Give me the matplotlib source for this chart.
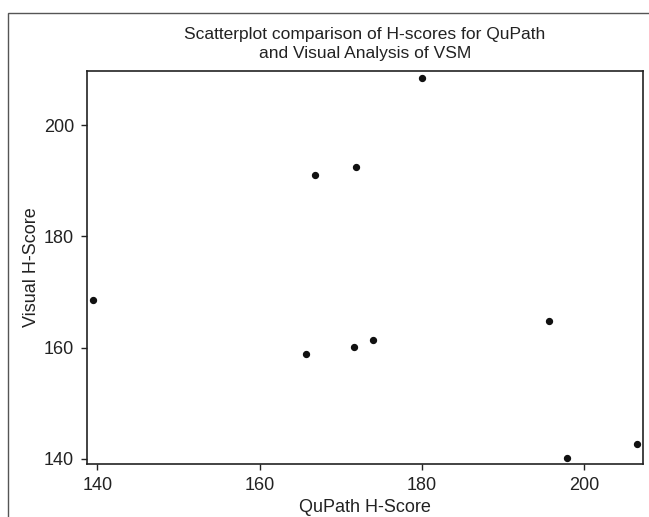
import matplotlib
matplotlib.use("Agg")
import matplotlib.pyplot as plt
from matplotlib.patches import Rectangle

plt.rcParams['font.family'] = ['Liberation Sans', 'DejaVu Sans']

# QuPath vs visual H-scores
qupath = [139.4, 165.7, 166.8, 171.6, 171.9, 174.0, 180.0, 195.6, 197.8, 206.5]
visual = [168.6, 158.9, 191.0, 160.1, 192.4, 161.3, 208.4, 164.8, 140.2, 142.7]
xticks = [140, 160, 180, 200]
yticks = [140, 160, 180, 200]

fig = plt.figure(figsize=(6.49, 5.17), dpi=100)
ax = fig.add_axes([0.1336, 0.1025, 0.8572, 0.7607])

# outer frame, cut off at right/bottom like the original
fig.patches.append(Rectangle((8 / 649, -0.2), 1.2, 1.2 - 12.7 / 517,
                             transform=fig.transFigure, fill=False,
                             edgecolor='#555555', linewidth=1.0))

ax.scatter(qupath, visual, s=18, color='#111111', zorder=3)

ax.set_xlim(138.67, 207.23)
ax.set_ylim(139.1, 209.75)
ax.set_xticks(xticks)
ax.set_yticks(yticks)
ax.tick_params(direction='out', length=4, width=1, labelsize=13, colors='#222222')
ax.tick_params(axis='x', pad=5)
ax.tick_params(axis='y', pad=5)
for s in ax.spines.values():
    s.set_linewidth(1.2)
    s.set_color('#222222')

ax.set_xlabel('QuPath H-Score', fontsize=13, color='#222222', labelpad=4)
ax.set_ylabel('Visual H-Score', fontsize=13, color='#222222', labelpad=3)
ax.set_title('Scatterplot comparison of H-scores for QuPath\nand Visual Analysis of VSM',
             fontsize=12.5, color='#222222', pad=9, linespacing=1.35)

fig.savefig('out.png', dpi=100)
